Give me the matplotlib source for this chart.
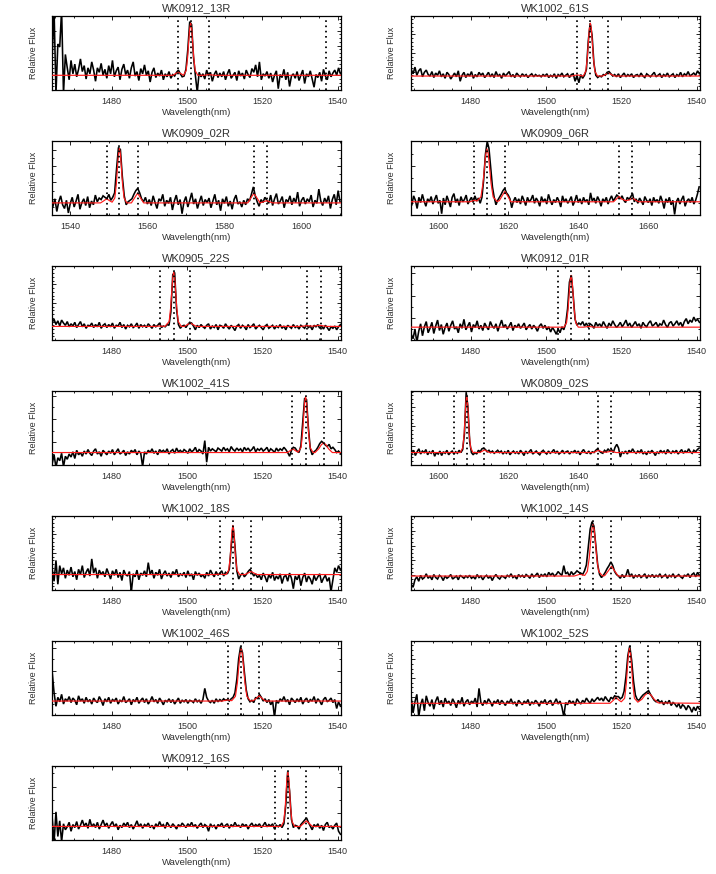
import numpy as np
import matplotlib
matplotlib.use("Agg")
import matplotlib.pyplot as plt
from matplotlib.ticker import MultipleLocator, AutoMinorLocator, NullFormatter

# ---------------- data (flux in % of panel height, 0.5 nm sampling) ----------------
names = ["WK0912_13R", "WK1002_61S", "WK0909_02R", "WK0909_06R", "WK0905_22S",
         "WK0912_01R", "WK1002_41S", "WK0809_02S", "WK1002_18S", "WK1002_14S",
         "WK1002_46S", "WK1002_52S", "WK0912_16S"]
x_min = [1464.2, 1464.2, 1535.2, 1592.2, 1464.2, 1464.2, 1464.2, 1592.2, 1464.2, 1464.2, 1464.2, 1464.2, 1464.2]
x_max = [1540.9, 1540.9, 1610.2, 1674.7, 1540.9, 1540.9, 1540.9, 1674.7, 1540.9, 1540.9, 1540.9, 1540.9, 1540.9]
lam_start = [1464.25, 1464.25, 1535.45, 1592.45, 1464.25, 1464.25, 1464.25, 1592.45, 1464.25, 1464.25, 1464.25, 1464.25, 1464.25]
lam_step = 0.5

flux_0912_13R = [45, 108, -5, 62, 58, 108, -5, 48, 30, 14, 40, 22, 35, 18, 28, 42, 25, 33, 15, 30,
                 22, 38, 27, 12, 30, 24, 36, 20, 28, 16, 33, 22, 40, 18, 26, 31, 14, 28, 35, 21,
                 27, 16, 30, 38, 19, 25, 13, 29, 22, 34, 20, 26, 11, 24, 30, 17, 23, 19, 27, 14,
                 22, 18, 25, 16, 21, 19, 24, 27, 22, 18, 19, 28, 55, 92, 88, 45, 20, -3, 24, 18,
                 22, 15, 27, 19, 24, 12, 21, 26, 17, 23, 18, 25, 14, 22, 28, 16, 20, 24, 13, 26,
                 19, 23, 15, 27, 21, 17, 29, 24, 34, 18, 38, 14, 22, 19, 25, 16, 23, 11, 20, 26,
                 2, 21, 17, 28, 14, 24, 5, 19, 22, 16, 25, 13, 20, 27, 9, 22, 18, 26, 15, 4,
                 21, 17, 24, 12, 28, 19, 14, 26, 18, 23, 27, 20, 30, 22]
flux_1002_61S = [28, 22, 31, 20, 26, 29, 18, 24, 27, 21, 19, 25, 17, 23, 20, 26, 18, 22, 16, 24,
                 21, 15, 19, 23, 18, 26, 12, 20, 24, 17, 22, 19, 25, 16, 21, 18, 24, 20, 23, 17,
                 20, 24, 18, 22, 17, 25, 19, 21, 16, 23, 19, 22, 25, 18, 21, 17, 23, 20, 18, 22,
                 19, 21, 17, 20, 22, 18, 21, 19, 20, 18, 21, 19, 22, 17, 20, 18, 22, 16, 21, 19,
                 23, 18, 20, 22, 17, 21, 22, 12, 20, 10, 21, 16, 20, 28, 66, 90, 74, 36, 20, 17,
                 19, 18, 21, 20, 24, 25, 22, 19, 21, 18, 22, 17, 20, 23, 18, 21, 19, 22, 17, 20,
                 21, 18, 23, 19, 17, 22, 20, 18, 21, 24, 18, 20, 22, 17, 21, 19, 23, 18, 20, 22,
                 17, 21, 19, 24, 18, 22, 20, 25, 19, 21, 23, 20, 26, 22]
flux_0909_02R = [12, 22, 5, 18, 26, 14, 9, 20, 3, 16, 24, 11, 19, 28, 8, 17, 22, 13, 25, 10,
                 19, 14, 27, 18, 23, 21, 26, 24, 22, 28, 20, 24, 30, 62, 91, 88, 52, 26, 14, 18,
                 20, 22, 28, 33, 36, 30, 22, 18, 24, 15, 21, 13, 26, 17, 9, 22, 19, 28, 12, 20,
                 16, 24, 7, 19, 27, 14, 21, 2, 18, 25, 11, 20, 30, 15, 22, 9, 18, 26, 13, 21,
                 17, 23, 10, 19, 28, 14, 20, 6, 22, 16, 25, 12, 19, 8, 21, 27, 15, 18, 11, 20,
                 14, 22, 19, 28, 38, 26, 18, 12, 21, 17, 24, 20, 16, 27, 13, 22, 29, 15, 19, 25,
                 10, 21, 18, 26, 14, 23, 17, 31, 12, 20, 24, 15, 22, 18, 27, 11, 20, 16, 35, 19,
                 13, 23, 17, 26, 9, 21, 28, 14, 33, 18]
flux_0909_06R = [14, 26, 20, 9, 24, 17, 28, 19, 12, 22, 18, 25, 15, 21, 27, 16, 20, 2, 23, 14,
                 26, 19, 11, 24, 29, 17, 22, 13, 25, 18, 21, 27, 15, 20, 24, 17, 26, 19, 23, 16,
                 24, 48, 82, 99, 90, 64, 38, 24, 14, 20, 24, 28, 33, 36, 30, 27, 22, 10, 19, 24,
                 17, 22, 15, 26, 20, 13, 24, 18, 21, 27, 16, 23, 19, 12, 25, 18, 22, 15, 28, 20,
                 14, 21, 17, 24, 19, 11, 26, 18, 22, 16, 20, 25, 13, 19, 27, 17, 22, 15, 24, 18,
                 21, 14, 30, 19, 23, 16, 25, 20, 12, 22, 18, 24, 15, 21, 26, 19, 23, 27, 25, 22,
                 26, 20, 17, 24, 21, 25, 29, 18, 22, 16, 23, 19, 14, 25, 20, 17, 22, 13, 24, 18,
                 21, 16, 26, 19, 9, 22, 17, 24, 14, 20, 1, 18, 23, 15, 21, 26, 12, 19, 22, 17,
                 24, 15, 20, 28, 38]
flux_0905_22S = [24, 28, 21, 26, 19, 27, 23, 20, 25, 18, 22, 19, 24, 17, 21, 25, 18, 22, 16, 20,
                 19, 23, 17, 21, 18, 24, 16, 20, 22, 17, 21, 18, 23, 16, 20, 19, 24, 17, 21, 15,
                 20, 18, 22, 17, 19, 23, 16, 21, 18, 20, 17, 22, 19, 16, 21, 18, 20, 23, 17, 19,
                 18, 21, 20, 38, 88, 91, 42, 21, 16, 19, 20, 17, 21, 24, 23, 19, 14, 20, 17, 21,
                 18, 16, 20, 22, 15, 19, 17, 21, 14, 20, 19, 16, 22, 18, 15, 20, 17, 13, 19, 21,
                 16, 20, 18, 14, 21, 17, 19, 22, 15, 18, 20, 17, 14, 19, 21, 16, 18, 20, 15, 19,
                 17, 21, 16, 19, 14, 20, 18, 16, 21, 17, 19, 15, 20, 18, 16, 21, 17, 19, 14, 20,
                 18, 21, 16, 19, 15, 20, 17, 13, 18, 16, 19, 14, 18, 21]
flux_0912_01R = [8, 2, 15, -3, 12, 22, 6, 18, 25, 10, 16, 24, 9, 19, 27, 13, 21, 8, 17, 23,
                 12, 20, 26, 15, 18, 10, 22, 16, 28, 14, 19, 24, 11, 21, 17, 26, 15, 20, 13, 23,
                 18, 14, 25, 19, 16, 22, 12, 20, 27, 17, 21, 15, 19, 24, 13, 20, 17, 22, 16, 19,
                 23, 14, 18, 21, 15, 20, 17, 12, 19, 22, 16, 20, 14, 18, 11, 17, 13, 8, 15, 10,
                 18, 14, 22, 42, 78, 87, 60, 28, 20, 23, 21, 25, 19, 23, 17, 22, 20, 16, 24, 19,
                 22, 18, 25, 20, 16, 23, 19, 26, 21, 17, 20, 24, 18, 22, 27, 19, 23, 17, 21, 25,
                 19, 22, 16, 24, 20, 18, 23, 26, 19, 21, 24, 18, 22, 20, 27, 21, 17, 23, 25, 19,
                 22, 26, 20, 24, 18, 25, 29, 22, 27, 24, 31, 26, 28, 24]
flux_1002_41S = [2, 14, -3, 10, 6, 16, -2, 12, 8, 15, 11, 18, 9, 20, 14, 17, 12, 19, 15, 21,
                 16, 13, 19, 22, 15, 18, 12, 20, 17, 14, 19, 16, 21, 14, 18, 22, 15, 17, 20, 13,
                 18, 15, 20, 17, 21, 14, 19, 16, -2, 18, 15, 20, 17, 22, 16, 19, 14, 21, 18, 20,
                 17, 22, 15, 19, 21, 16, 23, 18, 20, 17, 21, 19, 16, 22, 18, 20, 24, 17, 21, 19,
                 15, 33, 4, 24, 19, 22, 20, 18, 23, 21, 19, 24, 20, 22, 18, 25, 21, 19, 23, 20,
                 22, 18, 24, 20, 23, 19, 21, 25, 18, 22, 20, 23, 19, 21, 24, 18, 22, 20, 17, 23,
                 19, 22, 20, 24, 21, 17, 12, 20, 24, 23, 19, 17, 26, 58, 90, 88, 50, 22, 14, 18,
                 20, 24, 29, 32, 30, 27, 25, 28, 22, 24, 21, 17, 19, 16]
flux_0809_02S = [16, 20, 13, 18, 22, 15, 19, 17, 21, 14, 18, 16, 20, 12, 17, 15, 19, 13, 18, 16,
                 20, 14, 17, 19, 15, 18, 16, 20, 17, 21, 42, 98, 78, 32, 17, 14, 17, 15, 20, 18,
                 22, 23, 21, 18, 20, 17, 19, 16, 18, 20, 17, 19, 15, 18, 16, 20, 14, 17, 19, 16,
                 18, 15, 20, 17, 13, 19, 16, 18, 21, 15, 17, 19, 16, 14, 18, 20, 17, 15, 19, 16,
                 18, 21, 16, 19, 15, 17, 20, 16, 18, 19, 15, 18, 17, 20, 16, 19, 14, 18, 21, 17,
                 16, 19, 15, 18, 17, 20, 22, 19, 17, 16, 20, 18, 22, 19, 21, 17, 24, 28, 23, 11,
                 18, 16, 19, 15, 20, 17, 22, 18, 16, 19, 17, 21, 15, 18, 14, 19, 16, 20, 17, 13,
                 18, 16, 20, 17, 19, 15, 21, 18, 16, 19, 17, 20, 15, 18, 21, 16, 19, 17, 22, 18,
                 16, 20, 18, 21, 23]
flux_1002_18S = [28, 12, 40, 8, 33, 22, 30, 16, 27, 20, 31, 18, 25, 14, 28, 21, 33, 17, 24, 29,
                 19, 42, 23, 30, 16, 27, 21, 25, 18, 29, 22, 15, 26, 20, 28, 17, 24, 13, 27, 21,
                 19, 25, -3, 22, 18, 27, 14, 23, 20, 26, 18, 37, 21, 27, 16, 24, 20, 28, 15, 22,
                 26, 19, 23, 17, 25, 21, 28, 18, 22, 20, 24, 17, 26, 19, 22, 14, 25, 20, 23, 18,
                 21, 16, 24, 19, 27, 22, 18, 25, 20, 23, 26, 19, 24, 22, 28, 58, 86, 60, 26, 15,
                 20, 23, 18, 21, 25, 28, 24, 19, 22, 17, 20, 14, 23, 18, 11, 21, 16, 24, 13, 19,
                 15, 22, 9, 18, 20, 12, 23, 16, 2, 19, 14, 21, 6, 17, 23, 11, 19, 15, 8, 20,
                 13, 18, 22, 10, 16, 20, 12, 17, -2, 14, 30, 24, 33, 27]
flux_1002_14S = [8, 4, 14, 18, 12, 20, 15, 17, 22, 16, 19, 14, 21, 17, 15, 20, 18, 13, 19, 16,
                 18, 21, 15, 17, 19, 14, 20, 18, 16, 19, 17, 20, 16, 18, 15, 21, 17, 19, 14, 18,
                 20, 16, 19, 13, 18, 21, 17, 15, 19, 18, 16, 20, 18, 22, 17, 19, 15, 21, 18, 20,
                 17, 21, 19, 16, 22, 18, 20, 23, 17, 21, 19, 22, 18, 24, 20, 23, 19, 21, 25, 22,
                 20, 33, 22, 24, 19, 25, 21, 23, 26, 24, 23, 21, 26, 34, 58, 82, 92, 86, 60, 34,
                 21, 17, 20, 24, 29, 33, 38, 33, 25, 21, 19, 16, 21, 17, 20, 28, 18, 22, 16, 20,
                 18, 21, 17, 19, 22, 16, 20, 18, 21, 17, 20, 18, 22, 17, 19, 21, 16, 20, 18, 22,
                 17, 19, 21, 18, 16, 20, 19, 22, 17, 21, 23, 18, 24, 20]
flux_1002_46S = [58, 30, 12, 24, 18, 28, 15, 22, 19, 25, 17, 23, 20, 14, 26, 19, 22, 16, 24, 18,
                 21, 15, 23, 19, 17, 25, 20, 13, 22, 18, 24, 16, 21, 19, 23, 15, 20, 18, 25, 17,
                 19, 22, 14, 21, 18, 24, 16, 20, 23, 17, 22, 15, 19, 25, 18, 21, 16, 23, 19, 14,
                 20, 18, 22, 17, 21, 15, 19, 23, 16, 20, 18, 21, 16, 20, 19, 17, 22, 18, 20, 16,
                 21, 36, 24, 19, 17, 20, 16, 22, 18, 21, 19, 22, 20, 21, 19, 22, 24, 30, 48, 76,
                 92, 84, 58, 34, 22, 18, 20, 17, 24, 22, 28, 24, 19, 22, 17, 21, 14, 19, -3, 20,
                 16, 22, 19, 25, 18, 21, 14, 23, 20, 17, 22, 18, 24, 15, 20, 23, 17, 21, 19, 25,
                 16, 22, 19, 14, 21, 24, 18, 20, 23, 17, 21, 9, 18, 12]
flux_1002_52S = [24, 3, 18, 28, -2, 14, 22, 6, 26, 17, 12, 21, 8, 19, 25, 14, 20, 11, 23, 16,
                 19, 13, 22, 17, 10, 20, 15, 24, 12, 18, 21, 14, 19, 16, 23, 11, 36, 17, 13, 20,
                 15, 22, 18, 12, 19, 16, 21, 14, 20, 17, 13, 19, 16, 22, 15, 18, 12, 20, 17, 14,
                 19, 16, 21, 13, 18, 15, 20, 17, 12, 19, 16, 21, 14, 18, 20, 13, 17, 22, 15, 19,
                 11, -2, 17, 14, 20, 16, 19, 13, 22, 18, 15, 20, 17, 23, 19, 16, 22, 18, 21, 24,
                 20, 23, 19, 25, 21, 18, 24, 22, 26, 25, 25, 22, 24, 32, 52, 80, 93, 74, 46, 27,
                 21, 20, 24, 27, 29, 31, 33, 28, 24, 20, 18, 21, 17, 19, 14, 18, 16, 20, 13, 17,
                 15, 11, 16, 9, 14, 12, 7, 13, 10, 4, 11, 6, 12, 8]
flux_0912_16S = [30, -3, 38, 5, 26, -2, 22, 14, 18, 24, 12, 21, 17, 25, 15, 20, 27, 19, 23, 16,
                 28, 18, 22, 17, 24, 15, 21, 27, 19, 23, 16, 21, 25, 18, 22, 14, 20, 17, 23, 19,
                 24, 17, 21, 15, 20, 26, 18, 22, 16, 21, 19, 23, 17, 20, 15, 22, 18, 25, 19, 21,
                 16, 24, 20, 17, 22, 19, 15, 21, 18, 23, 20, 17, 22, 19, 24, 18, 21, 16, 20, 23,
                 17, 21, 19, 12, 22, 18, 20, 15, 21, 19, 23, 17, 20, 22, 16, 21, 18, 24, 19, 20,
                 17, 22, 19, 21, 15, 20, 23, 18, 21, 19, 22, 17, 20, 24, 18, 21, 19, 22, 15, 20,
                 18, 21, 17, 22, 48, 92, 66, 28, 17, 20, 19, 15, 21, 24, 27, 30, 24, 19, 14, 21,
                 18, 22, 16, 20, 13, 21, 24, 17, 19, 15, 20, 23, 12, 8]

# red model curves (wavelength, flux)
red_lam_0912_13R = [1464, 1496.3, 1496.9, 1497.7, 1498.5, 1499.1, 1499.8, 1500.2, 1500.5, 1500.75, 1501.0,
                    1501.25, 1501.5, 1501.8, 1502.2, 1502.9, 1504.5, 1505.9, 1507.3, 1541]
red_flux_0912_13R = [20, 20, 22, 24, 22, 20, 26.3, 44.5, 66.2, 83, 90, 83, 66.2, 44.5, 26.3, 20, 20, 21, 20, 20]
red_lam_1002_61S = [1464, 1506.9, 1507.5, 1508.3, 1509.1, 1509.9, 1510.6, 1511.0, 1511.3, 1511.55, 1511.8,
                    1512.05, 1512.3, 1512.6, 1513.0, 1513.7, 1515.0, 1515.8, 1516.6, 1517.4, 1518.2, 1541]
red_flux_1002_61S = [19, 19, 19.8, 20.5, 19.8, 19, 25.4, 43.9, 65.9, 82.9, 90, 82.9, 65.9, 43.9, 25.4, 19,
                     19, 21, 23, 21, 19, 19]
red_lam_0909_02R = [1535.2, 1547.8, 1548.6, 1549.4, 1550.2, 1550.8, 1551.5, 1551.9, 1552.2, 1552.45, 1552.7,
                    1552.95, 1553.2, 1553.5, 1553.9, 1554.6, 1555.8, 1556.6, 1557.4, 1558.2, 1559.0,
                    1586.0, 1586.8, 1587.6, 1588.4, 1589.2, 1590.1, 1590.9, 1591.7, 1592.5, 1610.2]
red_flux_0909_02R = [16.5, 16.5, 19.2, 22, 19.2, 17.5, 23.1, 42.1, 64.7, 82.2, 89.5, 82.2, 64.7, 42.1, 23.1,
                     16.5, 16.5, 23, 29.5, 23, 16.5, 16.5, 23, 29.5, 23, 16.5, 18, 19.5, 18, 16.5, 16.5]
red_lam_0909_06R = [1592.2, 1609.0, 1610.3, 1611.0, 1612.15, 1612.75, 1613.18, 1613.54, 1613.9, 1614.26,
                    1614.62, 1615.05, 1615.65, 1616.8, 1617.4, 1618.1, 1619.0, 1619.9, 1620.7, 1650.0,
                    1650.8, 1651.6, 1652.4, 1653.5, 1654.6, 1655.4, 1656.2, 1657.2, 1674.7]
red_flux_0909_06R = [18, 18, 20, 19, 24.4, 42.9, 64.9, 81.9, 89, 81.9, 64.9, 42.9, 24.4, 18.3, 19.5, 25, 32,
                     25, 18, 18, 21.5, 25, 21.5, 19.5, 20.5, 23, 20.5, 18, 18]
red_lam_0905_22S = [1464, 1491.4, 1492.8, 1494.2, 1495.3, 1495.7, 1496.0, 1496.25, 1496.5, 1496.75, 1497.0,
                    1497.3, 1497.7, 1498.5, 1499.3, 1500.1, 1500.9, 1501.7, 1502.5, 1530.2, 1531.8,
                    1533.4, 1535.2, 1537.0, 1541]
red_flux_0905_22S = [18.5, 18.5, 19, 18.5, 25.1, 44.1, 66.7, 84.2, 91.5, 84.2, 66.7, 44.1, 25.1, 18.5,
                     18.5, 20.8, 23, 20.8, 18.5, 18.5, 19.5, 18.8, 20, 18.5, 18.5]
red_lam_0912_01R = [1464, 1504.8, 1505.5, 1505.9, 1506.2, 1506.45, 1506.7, 1506.95, 1507.2, 1507.5, 1507.9,
                    1508.6, 1510.0, 1511.4, 1512.8, 1541]
red_flux_0912_01R = [17.5, 17.5, 23.8, 41.8, 63.4, 80.1, 87, 80.1, 63.4, 41.8, 23.8, 17.5, 17.5, 18.5, 17.5, 17.5]
red_lam_1002_41S = [1464, 1526.7, 1527.4, 1528.1, 1528.8, 1529.5, 1530.3, 1530.7, 1531.0, 1531.25, 1531.5,
                    1531.75, 1532.0, 1532.3, 1532.7, 1533.5, 1534.0, 1535.0, 1535.7, 1536.3, 1536.9,
                    1537.6, 1538.6, 1541]
red_flux_1002_41S = [17, 17, 19.5, 22, 19.5, 17.5, 23.75, 43.25, 66.5, 84.5, 92, 84.5, 66.5, 43.25, 23.75,
                     17, 17, 22, 27.5, 30, 27.5, 22, 17, 17]
red_lam_0809_02S = [1592.2, 1606.3, 1607.0, 1607.4, 1607.65, 1607.88, 1608.1, 1608.32, 1608.55, 1608.8,
                    1609.2, 1609.9, 1611.8, 1612.5, 1613.2, 1613.9, 1614.6, 1644.3, 1645.0, 1645.7,
                    1646.4, 1647.1, 1647.9, 1648.6, 1649.3, 1650.0, 1650.7, 1674.7]
red_flux_0809_02S = [17, 17, 23.8, 43.6, 67.2, 85.4, 93, 85.4, 67.2, 43.6, 23.8, 17, 17, 18.7, 20.5, 18.7,
                     17, 17, 18.5, 20, 18.5, 17.5, 17.5, 18, 19, 18, 17, 17]
red_lam_1002_18S = [1464, 1507.4, 1508.8, 1510.2, 1510.4, 1511.1, 1511.5, 1511.75, 1511.98, 1512.2, 1512.42,
                    1512.65, 1512.9, 1513.3, 1514.0, 1515.4, 1516.2, 1517.0, 1517.8, 1518.6, 1541]
red_flux_1002_18S = [21, 21, 21.5, 21, 21, 26.9, 44.1, 64.6, 80.4, 87, 80.4, 64.6, 44.1, 26.9, 21, 21, 23,
                     25, 23, 21, 21]
red_lam_1002_14S = [1464, 1507.5, 1508.3, 1509.0, 1509.7, 1510.3, 1511.0, 1511.5, 1511.86, 1512.18, 1512.5,
                    1512.82, 1513.14, 1513.5, 1514.0, 1515.0, 1515.6, 1516.5, 1517.4, 1518.3, 1519.2, 1541]
red_flux_1002_14S = [19, 19, 20.2, 21.5, 20.5, 19.8, 25.2, 43.2, 64.5, 81.1, 88, 81.1, 64.5, 43.2, 25.2,
                     19.3, 19.5, 25.5, 32, 25.5, 19, 19]
red_lam_1002_46S = [1464, 1509.4, 1510.8, 1511.9, 1512.88, 1513.4, 1513.76, 1514.08, 1514.4, 1514.72,
                    1515.04, 1515.4, 1515.92, 1516.9, 1517.6, 1518.4, 1519.2, 1520.0, 1520.8, 1541]
red_flux_1002_46S = [19, 19, 20.5, 19.5, 25.3, 43.5, 65.2, 82, 89, 82, 65.2, 43.5, 25.3, 19, 19.5, 22.5, 26,
                     22.5, 19, 19]
red_lam_1002_52S = [1464, 1517.0, 1517.9, 1518.6, 1519.3, 1520.0, 1520.9, 1521.33, 1521.65, 1521.93, 1522.2,
                    1522.47, 1522.75, 1523.07, 1523.5, 1524.4, 1525.5, 1526.3, 1527.1, 1527.9, 1528.7,
                    1529.8, 1541]
red_flux_1002_52S = [16, 16, 20, 24, 20.5, 18, 22.7, 41.9, 64.8, 82.6, 90, 82.6, 64.8, 41.9, 22.7, 17.5,
                     21.5, 27, 30, 27, 21.5, 16.5, 16]
red_lam_0912_16S = [1464, 1525.0, 1525.7, 1526.1, 1526.35, 1526.58, 1526.8, 1527.02, 1527.25, 1527.5, 1527.9,
                    1528.6, 1530.1, 1530.9, 1531.7, 1532.5, 1533.3, 1541]
red_flux_0912_16S = [18.5, 18.5, 25.1, 44.1, 66.7, 84.2, 91.5, 84.2, 66.7, 44.1, 25.1, 18.5, 18.5, 22.3,
                     26, 22.3, 18.5, 18.5]

# expected line positions (dotted markers)
line_marks = [[1497.7, 1501.0, 1505.9, 1537.0],
              [1508.3, 1511.8, 1516.6],
              [1549.4, 1552.7, 1557.4, 1587.6, 1590.9],
              [1610.1, 1613.9, 1618.9, 1651.6, 1655.4],
              [1492.8, 1496.5, 1500.9, 1532.0, 1535.5],
              [1503.3, 1506.7, 1511.4],
              [1528.0, 1531.5, 1536.4],
              [1604.4, 1608.1, 1613.1, 1645.7, 1649.3],
              [1508.8, 1512.2, 1517.0],
              [1509.0, 1512.4, 1517.3],
              [1510.8, 1514.4, 1519.2],
              [1518.6, 1522.2, 1527.1],
              [1523.3, 1526.8, 1531.7]]

y_major = [20, 25, 22, 33, 25, 30, 31, 26, 25, 20, 30, 25, 36]
y_minor = [4, 5, 2, 2, 5, 2, 2, 5, 5, 4, 2, 4, 2]

fluxes = [flux_0912_13R, flux_1002_61S, flux_0909_02R, flux_0909_06R, flux_0905_22S, flux_0912_01R,
          flux_1002_41S, flux_0809_02S, flux_1002_18S, flux_1002_14S, flux_1002_46S, flux_1002_52S,
          flux_0912_16S]
red_lams = [red_lam_0912_13R, red_lam_1002_61S, red_lam_0909_02R, red_lam_0909_06R, red_lam_0905_22S,
            red_lam_0912_01R, red_lam_1002_41S, red_lam_0809_02S, red_lam_1002_18S, red_lam_1002_14S,
            red_lam_1002_46S, red_lam_1002_52S, red_lam_0912_16S]
red_fluxes = [red_flux_0912_13R, red_flux_1002_61S, red_flux_0909_02R, red_flux_0909_06R, red_flux_0905_22S,
              red_flux_0912_01R, red_flux_1002_41S, red_flux_0809_02S, red_flux_1002_18S, red_flux_1002_14S,
              red_flux_1002_46S, red_flux_1002_52S, red_flux_0912_16S]

# ---------------- figure ----------------
plt.rcParams['font.family'] = ['Liberation Sans', 'DejaVu Sans']
W, H = 716, 874
fig = plt.figure(figsize=(W / 100, H / 100), dpi=100)
fig.patch.set_facecolor('white')
txt = '#303030'
col_x = [52, 411]
AXW, AXH = 289, 74.5

for i, name in enumerate(names):
    row, col = divmod(i, 2)
    top = 15.7 + 125 * row
    ax = fig.add_axes([col_x[col] / W, 1 - (top + AXH) / H, AXW / W, AXH / H])
    f = np.array(fluxes[i], dtype=float)
    lam = lam_start[i] + lam_step * np.arange(len(f))
    ax.plot(lam, f, color='black', lw=1.15, zorder=2, solid_joinstyle='miter')
    ax.plot(red_lams[i], red_fluxes[i], color='#ff1a1a', lw=0.85, zorder=3)
    for lm in line_marks[i]:
        ax.axvline(lm, color='black', lw=1.3, ls=(0, (0.9, 2.0)), zorder=4)
    ax.set_xlim(x_min[i], x_max[i])
    ax.set_ylim(0, 100)
    ax.xaxis.set_major_locator(MultipleLocator(20))
    ax.xaxis.set_minor_locator(MultipleLocator(5))
    ax.yaxis.set_major_locator(MultipleLocator(y_major[i]))
    ax.yaxis.set_minor_locator(AutoMinorLocator(y_minor[i]))
    ax.yaxis.set_major_formatter(NullFormatter())
    ax.tick_params(which='both', direction='in', top=True, right=True, width=0.6, colors='black',
                   labelcolor=txt, labelsize=6.5)
    ax.tick_params(which='major', length=2.6, pad=5.0)
    ax.tick_params(which='minor', length=1.4)
    for s in ax.spines.values():
        s.set_linewidth(0.9)
    ax.set_title(name, fontsize=8, color=txt, pad=3)
    ax.set_xlabel('Wavelength(nm)', fontsize=6.8, color=txt)
    ax.xaxis.set_label_coords(0.5, -18.0 / AXH)
    ax.set_ylabel('Relative Flux', fontsize=6.5, color=txt)
    ax.yaxis.set_label_coords(-14.5 / AXW, 0.5)

fig.savefig('out.png', dpi=100, facecolor='white')
